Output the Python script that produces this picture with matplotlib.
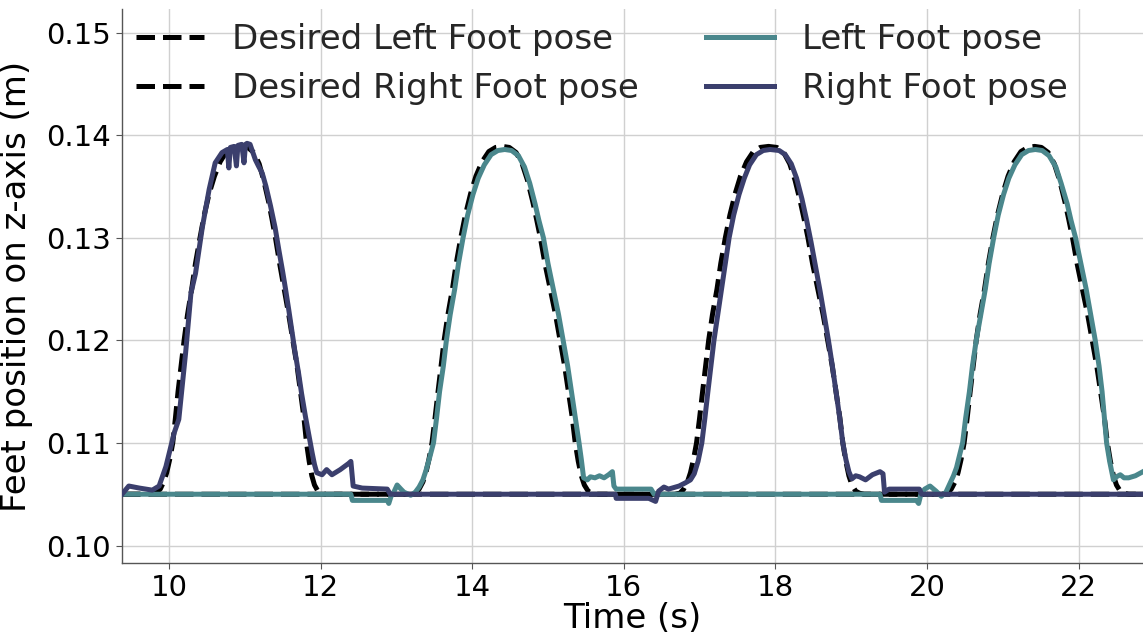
import matplotlib
matplotlib.use("Agg")
import matplotlib.pyplot as plt

# ---------------- data ----------------
# Desired left foot (black dashed)
des_left_t = [9.38,
              13.18, 13.25, 13.30, 13.35, 13.39, 13.43, 13.47, 13.51, 13.55, 13.59, 13.63, 13.68, 13.74, 13.79,
              13.85, 13.91, 13.98, 14.05, 14.13, 14.22, 14.31, 14.40, 14.49, 14.58, 14.66, 14.73, 14.80, 14.85,
              14.90, 14.96, 15.03, 15.10, 15.16, 15.22, 15.27, 15.32, 15.36, 15.40, 15.44, 15.48, 15.53, 15.58, 15.64,
              20.20, 20.27, 20.32, 20.37, 20.41, 20.45, 20.49, 20.53, 20.57, 20.61, 20.65, 20.70, 20.76, 20.81,
              20.87, 20.93, 21.00, 21.07, 21.15, 21.24, 21.33, 21.42, 21.51, 21.60, 21.68, 21.75, 21.82, 21.87,
              21.92, 21.98, 22.05, 22.12, 22.18, 22.24, 22.29, 22.34, 22.38, 22.42, 22.46, 22.50, 22.55, 22.60, 22.66,
              22.85]
des_left_z = [0.1050,
              0.1050, 0.1051, 0.1055, 0.1062, 0.1071, 0.1084, 0.1100, 0.1124, 0.1150, 0.1175, 0.1200, 0.1225, 0.1250, 0.1275,
              0.1300, 0.1322, 0.1343, 0.1360, 0.1374, 0.1384, 0.1388, 0.1389, 0.1388, 0.1383, 0.1372, 0.1356, 0.1335, 0.1318,
              0.1300, 0.1275, 0.1250, 0.1225, 0.1200, 0.1175, 0.1150, 0.1125, 0.1100, 0.1082, 0.1068, 0.1059, 0.1053, 0.1051, 0.1050,
              0.1050, 0.1051, 0.1055, 0.1062, 0.1071, 0.1084, 0.1100, 0.1124, 0.1150, 0.1175, 0.1200, 0.1225, 0.1250, 0.1275,
              0.1300, 0.1322, 0.1343, 0.1360, 0.1374, 0.1384, 0.1388, 0.1389, 0.1388, 0.1383, 0.1372, 0.1356, 0.1335, 0.1318,
              0.1300, 0.1275, 0.1250, 0.1225, 0.1200, 0.1175, 0.1150, 0.1125, 0.1100, 0.1082, 0.1068, 0.1059, 0.1053, 0.1051, 0.1050,
              0.1050]

# Desired right foot (black dashed)
des_right_t = [9.38,
               9.70, 9.80, 9.885, 9.93, 9.97, 10.01, 10.05, 10.085, 10.12, 10.16, 10.20, 10.245, 10.30, 10.35,
               10.41, 10.465, 10.53, 10.60, 10.675, 10.76, 10.845, 10.93, 10.96, 11.04, 11.12, 11.19, 11.25, 11.315,
               11.36, 11.405, 11.46, 11.52, 11.58, 11.635, 11.69, 11.735, 11.78, 11.815, 11.85, 11.885, 11.92, 11.965,
               12.01, 12.06,
               16.67, 16.74, 16.79, 16.84, 16.88, 16.92, 16.96, 17.00, 17.04, 17.08, 17.12, 17.17, 17.23, 17.28,
               17.34, 17.40, 17.47, 17.54, 17.62, 17.71, 17.80, 17.91, 18.02, 18.11, 18.19, 18.26, 18.33, 18.38,
               18.43, 18.49, 18.56, 18.63, 18.69, 18.75, 18.80, 18.85, 18.89, 18.93, 18.97, 19.01, 19.06, 19.11, 19.17,
               22.85]
des_right_z = [0.1050,
               0.1050, 0.1051, 0.1055, 0.1062, 0.1071, 0.1084, 0.1100, 0.1124, 0.1150, 0.1175, 0.1200, 0.1225, 0.1250, 0.1275,
               0.1300, 0.1322, 0.1343, 0.1360, 0.1374, 0.1384, 0.1388, 0.1389, 0.1389, 0.1388, 0.1383, 0.1372, 0.1356, 0.1335,
               0.1318, 0.1300, 0.1275, 0.1250, 0.1225, 0.1200, 0.1175, 0.1150, 0.1125, 0.1100, 0.1082, 0.1068, 0.1059, 0.1053,
               0.1051, 0.1050,
               0.1050, 0.1051, 0.1055, 0.1062, 0.1071, 0.1084, 0.1100, 0.1124, 0.1150, 0.1175, 0.1200, 0.1225, 0.1250, 0.1275,
               0.1300, 0.1322, 0.1343, 0.1360, 0.1374, 0.1384, 0.1388, 0.1389, 0.1388, 0.1383, 0.1372, 0.1356, 0.1335, 0.1318,
               0.1300, 0.1275, 0.1250, 0.1225, 0.1200, 0.1175, 0.1150, 0.1125, 0.1100, 0.1082, 0.1068, 0.1059, 0.1053, 0.1051, 0.1050,
               0.1050]

# Measured left foot (teal)
left_t = [9.38, 12.40, 12.42, 12.88, 12.90, 12.93, 12.96, 13.01, 13.06, 13.10,
          13.19, 13.25, 13.30, 13.35, 13.39, 13.44, 13.49, 13.53, 13.57, 13.62, 13.66, 13.71, 13.77, 13.82,
          13.88, 13.94, 14.01, 14.08, 14.16, 14.25, 14.34, 14.43, 14.52, 14.61, 14.69, 14.76, 14.83, 14.88,
          14.94, 15.00, 15.07, 15.14, 15.20, 15.26, 15.31, 15.36, 15.41, 15.44, 15.47,
          15.52, 15.56, 15.62, 15.68, 15.74, 15.80, 15.85, 15.87, 15.90, 16.36, 16.40,
          19.38, 19.40, 19.86, 19.89, 19.92, 19.97, 20.04, 20.12, 20.19,
          20.25, 20.30, 20.35, 20.39, 20.43, 20.47, 20.51, 20.56, 20.60, 20.65, 20.71, 20.77, 20.82,
          20.88, 20.94, 21.01, 21.08, 21.16, 21.25, 21.34, 21.43, 21.52, 21.61, 21.70, 21.77, 21.85, 21.90,
          21.96, 22.03, 22.10, 22.16, 22.22, 22.27, 22.31, 22.34, 22.37, 22.41, 22.46,
          22.50, 22.55, 22.60, 22.66, 22.75, 22.85]
left_z = [0.1050, 0.1050, 0.1044, 0.1044, 0.1041, 0.1048, 0.1051, 0.1059, 0.1055, 0.1052,
          0.1049, 0.1052, 0.1057, 0.1064, 0.1073, 0.1086, 0.1100, 0.1124, 0.1150, 0.1175, 0.1200, 0.1225, 0.1250, 0.1275,
          0.1300, 0.1322, 0.1342, 0.1358, 0.1371, 0.1381, 0.1385, 0.1386, 0.1385, 0.1380, 0.1369, 0.1353, 0.1333, 0.1317,
          0.1300, 0.1275, 0.1250, 0.1225, 0.1200, 0.1175, 0.1150, 0.1125, 0.1100, 0.1084, 0.1066,
          0.1064, 0.1067, 0.1066, 0.1068, 0.1066, 0.1069, 0.1072, 0.1058, 0.1055, 0.1055, 0.1050,
          0.1050, 0.1044, 0.1044, 0.1041, 0.1050, 0.1055, 0.1058, 0.1053, 0.1048,
          0.1052, 0.1060, 0.1068, 0.1076, 0.1088, 0.1100, 0.1124, 0.1150, 0.1175, 0.1200, 0.1225, 0.1250, 0.1275,
          0.1300, 0.1322, 0.1342, 0.1358, 0.1371, 0.1381, 0.1385, 0.1386, 0.1385, 0.1380, 0.1369, 0.1353, 0.1333, 0.1317,
          0.1300, 0.1275, 0.1250, 0.1225, 0.1200, 0.1175, 0.1150, 0.1125, 0.1100, 0.1082, 0.1064,
          0.1067, 0.1069, 0.1066, 0.1066, 0.1068, 0.1072]

# Measured right foot (navy)
right_t = [9.38, 9.47, 9.61, 9.78, 9.87, 9.96, 10.07, 10.13, 10.22, 10.29, 10.35, 10.44, 10.53, 10.61, 10.70,
           10.77, 10.79, 10.81, 10.86, 10.89, 10.91, 10.96, 10.99, 11.01, 11.03, 11.07, 11.14, 11.18, 11.23,
           11.28, 11.34, 11.40, 11.45, 11.50, 11.54, 11.58, 11.62, 11.66, 11.71, 11.75, 11.80, 11.85, 11.89,
           11.92, 11.95, 12.02, 12.08, 12.15, 12.26, 12.37, 12.40, 12.43, 12.55, 12.88, 12.92,
           15.89, 15.90, 16.33, 16.42, 16.46, 16.53, 16.59, 16.73, 16.81, 16.88, 16.93, 16.98,
           17.03, 17.07, 17.11, 17.15, 17.19, 17.24, 17.29, 17.34, 17.39, 17.45, 17.52, 17.59, 17.66, 17.75,
           17.84, 17.93, 18.05, 18.13, 18.21, 18.28, 18.35, 18.41, 18.47, 18.53, 18.59, 18.65, 18.70, 18.75,
           18.80, 18.85, 18.89, 18.93, 18.97, 19.01, 19.06, 19.11, 19.19, 19.28, 19.38, 19.42, 19.44,
           19.50, 19.90, 19.93, 22.85]
right_z = [0.1050, 0.1058, 0.1056, 0.1054, 0.1058, 0.1077, 0.1110, 0.1123, 0.1188, 0.1246, 0.1265, 0.1310, 0.1347, 0.1373, 0.1383,
           0.1386, 0.1368, 0.1388, 0.1389, 0.1370, 0.1390, 0.1391, 0.1373, 0.1391, 0.1392, 0.1391, 0.1376, 0.1370, 0.1363,
           0.1350, 0.1331, 0.1310, 0.1288, 0.1267, 0.1249, 0.1230, 0.1210, 0.1190, 0.1168, 0.1148, 0.1126, 0.1106, 0.1090,
           0.1079, 0.1071, 0.1069, 0.1074, 0.1069, 0.1074, 0.1080, 0.1082, 0.1058, 0.1056, 0.1055, 0.1050,
           0.1050, 0.1046, 0.1046, 0.1043, 0.1053, 0.1057, 0.1055, 0.1058, 0.1061, 0.1064, 0.1070, 0.1082,
           0.1100, 0.1124, 0.1150, 0.1175, 0.1200, 0.1225, 0.1250, 0.1275, 0.1300, 0.1322, 0.1342, 0.1358, 0.1371, 0.1381,
           0.1385, 0.1386, 0.1385, 0.1381, 0.1372, 0.1358, 0.1338, 0.1318, 0.1296, 0.1272, 0.1248, 0.1222, 0.1200, 0.1176,
           0.1150, 0.1124, 0.1100, 0.1084, 0.1072, 0.1065, 0.1068, 0.1067, 0.1064, 0.1069, 0.1072, 0.1070, 0.1052,
           0.1055, 0.1055, 0.1050, 0.1050]

x_ticks = [10, 12, 14, 16, 18, 20, 22]
y_ticks = [0.10, 0.11, 0.12, 0.13, 0.14, 0.15]
x_label = "Time (s)"
y_label = "Feet position on z-axis (m)"
labels = ["Desired Left Foot pose", "Desired Right Foot pose", "Left Foot pose", "Right Foot pose"]

# ---------------- styling ----------------
TEAL = "#4a878c"
NAVY = "#3b3f6d"
LW = 3.6

plt.rcParams["font.family"] = ["DejaVu Sans"]
fig = plt.figure(figsize=(11.43, 6.37), dpi=100)
ax = fig.add_axes([0.1067, 0.1162, 0.8933, 0.8698])

ax.plot(des_left_t, des_left_z, color="black", lw=LW, ls="--", label=labels[0], zorder=3)
ax.plot(des_right_t, des_right_z, color="black", lw=LW, ls="--", label=labels[1], zorder=3)
ax.plot(left_t, left_z, color=TEAL, lw=LW, label=labels[2], zorder=4)
ax.plot(right_t, right_z, color=NAVY, lw=LW, label=labels[3], zorder=5)

ax.set_xlim(9.38, 22.85)
ax.set_ylim(0.0983, 0.1523)
ax.set_xticks(x_ticks)
ax.set_yticks(y_ticks)
ax.set_yticklabels([f"{v:.2f}" for v in y_ticks])
ax.tick_params(axis="both", labelsize=21, length=4, width=0.8, color="#555555", pad=4)
ax.grid(True, color="#d0d0d0", lw=1.0)
ax.set_axisbelow(True)
for s in ["top", "right"]:
    ax.spines[s].set_visible(False)
for s in ["left", "bottom"]:
    ax.spines[s].set_color("#555555")
    ax.spines[s].set_linewidth(1.0)

ax.set_xlabel(x_label, fontsize=24.5, labelpad=0)
ax.set_ylabel(y_label, fontsize=24.5, labelpad=9)

leg = ax.legend(loc="upper left", ncol=2, frameon=False, fontsize=24.5,
                handlelength=2.0, columnspacing=2.0, labelspacing=0.46,
                borderaxespad=0.12, borderpad=0.3)
for t in leg.get_texts():
    t.set_color("#262626")

fig.savefig("out.png", dpi=100)
